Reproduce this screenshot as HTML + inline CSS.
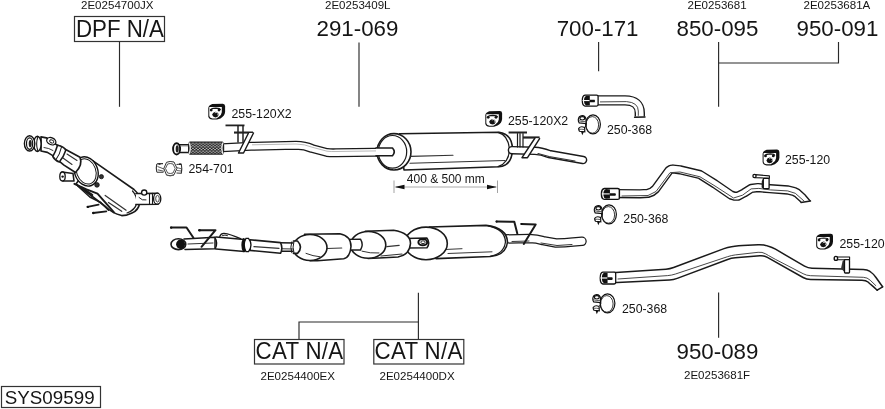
<!DOCTYPE html>
<html><head><meta charset="utf-8">
<style>
html,body{margin:0;padding:0;background:#fff;width:885px;height:409px;overflow:hidden}
svg{display:block;stroke-width:1.6;will-change:transform}
text{font-family:"Liberation Sans",sans-serif;fill:#151515}
.s{font-size:11.55px}
.m{font-size:12.3px}
.b{font-size:22.3px}
.ln{stroke:#2a2a2a;stroke-width:1.15;fill:none}
.bx{stroke:#333;stroke-width:1.2;fill:none}
.k{stroke:#1a1a1a;fill:#fff;stroke-linejoin:round;stroke-linecap:round}
.o{stroke:#1a1a1a;fill:none;stroke-linejoin:round;stroke-linecap:round}
.th{stroke:#333;fill:none;stroke-linecap:round}
.tb{fill:none;stroke-linejoin:round}
</style></head><body>
<svg width="885" height="409" viewBox="0 0 885 409">
<defs>
 <pattern id="mesh" patternUnits="userSpaceOnUse" width="3.4" height="2.7" x="0" y="0.5">
  <circle cx="0.85" cy="0.68" r="0.72" fill="#e8e8e8"/>
  <circle cx="2.55" cy="2.02" r="0.72" fill="#e8e8e8"/>
 </pattern>
 <symbol id="hg" viewBox="0 0 17 17" overflow="visible">
  <path d="M0,4.3 Q0.5,1.5 4,0.4 L14.5,0.2 Q16.8,0.3 16.8,2.5 L16.8,8.2 Q16.5,12.5 12.2,14.8 L8.8,16 L4,16 Q0.2,15.6 0,12.6 Z" fill="#111"/>
  <path d="M1,3.5 L13.5,3.5 L13.5,8.6 Q13.1,12 10,13.7 L8,14.9 L4.2,14.9 Q1.1,14.4 1,12 Z" fill="#fff"/>
  <path d="M2.6,6.2 Q3.2,4.6 7.6,4.5 Q11.8,4.6 12.2,6.2" fill="none" stroke="#111" stroke-width="1.2"/>
  <circle cx="2.9" cy="6.5" r="1.4" fill="#111"/>
  <circle cx="10.7" cy="6.5" r="1.4" fill="#111"/>
  <path d="M3.8,11 Q4.5,8.4 7.3,8.1 Q10.2,8.5 10.4,11.1 Q9.8,13.6 7.1,13.8 Q4.3,13.5 3.8,11 Z" fill="#111"/>
  <path d="M6.6,9.6 A1.7,1.7 0 1 1 9.3,11.6" fill="none" stroke="#fff" stroke-width="0.8"/>
 </symbol>
 <symbol id="sl" viewBox="0 0 16.4 11.6" preserveAspectRatio="none" overflow="visible">
  <path d="M3,0.3 L14.6,0.3 Q16.1,0.3 16.1,1.8 L16.1,9.8 Q16.1,11.3 14.6,11.3 L3,11.3 Q0.3,11 0.3,5.8 Q0.3,0.6 3,0.3 Z" fill="#fff" stroke="#111" stroke-width="1.3"/>
  <path d="M4.3,0.9 Q2,1.8 2,5.8 Q2,9.8 4.3,10.7 L7.8,10.4 L7.8,1.2 Z" fill="#111"/>
  <rect x="0.6" y="5.2" width="7.4" height="1.1" fill="#fff"/>
  <path d="M7.5,5 L12.6,5 Q13.6,6.2 12.6,7.5 L7.5,7.5 Z" fill="#111"/>
 </symbol>
 <symbol id="cl" viewBox="0 0 26 26" overflow="visible">
  <ellipse cx="18" cy="14.3" rx="7.4" ry="9.5" fill="#fff" stroke="#111" stroke-width="1.2"/>
  <ellipse cx="17.3" cy="14.9" rx="6.3" ry="8.3" fill="none" stroke="#222" stroke-width="0.9"/>
  <path d="M3.3,9.6 Q3.6,6 7.2,5.6 Q10.6,5.8 11,9.4 L11,13.6 L4.2,12.9 Q3.2,11.5 3.3,9.6 Z" fill="#fff" stroke="#111" stroke-width="1.2"/>
  <ellipse cx="7.3" cy="8.3" rx="2.4" ry="1.7" fill="none" stroke="#111" stroke-width="1.1"/>
  <path d="M3.5,10.6 Q7,12 10.8,11.4" fill="none" stroke="#333" stroke-width="0.8"/>
  <path d="M3.7,18.3 Q6,15.6 9.6,17.6 L9.8,21.8 L4.5,21.3 Q3.5,20 3.7,18.3 Z" fill="#fff" stroke="#111" stroke-width="1.2"/>
  <path d="M4,19.3 Q6.8,19 9.6,19.6" fill="none" stroke="#333" stroke-width="0.8"/>
  <path d="M6,21.6 L7.3,25.2 L8.9,21.8 Z" fill="#111"/>
  <path d="M11,13 Q12.2,15 10,17" fill="none" stroke="#111" stroke-width="1"/>
 </symbol>
</defs>

<!-- ===== labels ===== -->
<text class="s" x="81" y="9.2">2E0254700JX</text>
<text class="s" x="325" y="9.2">2E0253409L</text>
<text class="s" x="687.5" y="9.2">2E0253681</text>
<text class="s" x="803.5" y="9.2">2E0253681A</text>
<text class="b" x="76" y="36.7" transform="translate(0,36.7) scale(1,1.035) translate(0,-36.7)">DPF N/A</text>
<rect class="bx" x="74.5" y="16.5" width="90" height="25"/>
<text class="b" x="316.5" y="36.2">291-069</text>
<text class="b" x="556.7" y="36.2">700-171</text>
<text class="b" x="676.5" y="36.0">850-095</text>
<text class="b" x="796.5" y="36.0">950-091</text>
<line class="ln" x1="119.5" y1="41.5" x2="119.5" y2="106.8"/>
<line class="ln" x1="359" y1="42.5" x2="359" y2="106.8"/>
<line class="ln" x1="598.6" y1="42" x2="598.6" y2="71.3"/>
<polyline class="ln" points="718.6,42 718.6,106.8"/>
<polyline class="ln" points="718.6,63 838.5,63 838.5,42"/>

<line class="ln" x1="418.4" y1="292.7" x2="418.4" y2="339.5"/>
<polyline class="ln" points="299,339.5 299,322 418.4,322"/>
<rect class="bx" x="254.5" y="339.5" width="89.5" height="24.5"/>
<rect class="bx" x="373.8" y="339.5" width="90" height="24.5"/>
<text class="b" x="255.5" y="359.5" letter-spacing="0.3" transform="translate(0,359.5) scale(1,1.04) translate(0,-359.5)">CAT N/A</text>
<text class="b" x="374.6" y="359.5" letter-spacing="0.3" transform="translate(0,359.5) scale(1,1.04) translate(0,-359.5)">CAT N/A</text>
<text class="s" x="260.5" y="380.0">2E0254400EX</text>
<text class="s" x="379.5" y="380.0">2E0254400DX</text>

<line class="ln" x1="718.6" y1="292.6" x2="718.6" y2="337.8"/>
<text class="b" x="676.5" y="359.4">950-089</text>
<text class="s" x="684" y="379.2">2E0253681F</text>
<rect class="bx" x="1.5" y="386.5" width="99" height="21"/>
<text style="font-size:18.8px" x="4.8" y="403.9" transform="translate(0,403.9) scale(1,1.02) translate(0,-403.9)">SYS09599</text>

<!-- part labels -->
<use href="#hg" x="208.3" y="103.6" width="17" height="17"/>
<text class="m" x="231.5" y="118.1">255-120X2</text>
<use href="#hg" x="485.3" y="110.8" width="17" height="17"/>
<text class="m" x="508" y="125.1">255-120X2</text>
<use href="#hg" x="762.6" y="149.4" width="17" height="17"/>
<text class="m" x="785" y="163.9">255-120</text>
<use href="#hg" x="816.2" y="233.5" width="17" height="17"/>
<text class="m" x="839.5" y="247.7">255-120</text>

<use href="#cl" x="575" y="110" width="26" height="26"/>
<text class="m" x="607" y="134.4">250-368</text>
<use href="#cl" x="591" y="200" width="26" height="26"/>
<text class="m" x="623.3" y="223.3">250-368</text>
<use href="#cl" x="589.5" y="289" width="26" height="26"/>
<text class="m" x="622" y="313.3">250-368</text>

<!-- 254-701 clamp -->
<g fill="none" stroke-linejoin="round">
 <path d="M163.8,168.5 L166.5,162.3 Q170,160.8 174,162 L177,168.3 L174,174.8 Q170,176.5 166.5,175 Z" stroke="#333" stroke-width="1"/>
 <path d="M165.5,168.5 L167.6,164 Q170.2,163 173,164 L175.2,168.4 L173,173 Q170.2,174 167.6,173 Z" stroke="#444" stroke-width="0.9"/>
 <path d="M166.5,175.2 Q170,176.6 174,175.2" stroke="#555" stroke-width="0.8"/>
 <path d="M157,163.8 L163,163.6 M157,172.3 L163.5,172.2 M156.8,164 Q155.8,168 156.8,172.2" stroke="#333" stroke-width="1.1"/>
 <path d="M157.5,166.5 L164.5,169.2 M157.8,169.8 L164,171.3" stroke="#444" stroke-width="0.9"/>
 <path d="M158.5,164 L160.5,164" stroke="#222" stroke-width="1.6"/>
 <path d="M176.5,164.5 L181.3,164 Q182.3,168.5 181.3,173.3 L176.5,173" stroke="#333" stroke-width="1.1"/>
 <path d="M176.5,167.5 L181,168.7 M176.8,170.5 L181,171" stroke="#555" stroke-width="0.9"/>
 <path d="M179,164.2 L181,164.2" stroke="#222" stroke-width="1.6"/>
</g>
<text class="m" x="188.5" y="173.1">254-701</text>

<!-- dimension -->
<text style="font-size:12px" x="406.8" y="183">400 &amp; 500 mm</text>
<g>
 <line x1="394" y1="180.5" x2="394" y2="193" stroke="#999" stroke-width="0.9"/>
 <line x1="497.5" y1="180.5" x2="497.5" y2="193" stroke="#999" stroke-width="0.9"/>
 <line x1="396" y1="187" x2="496" y2="187" stroke="#aaa" stroke-width="1"/>
 <path d="M394.5,187 L404.5,184.8 L404.5,189.2 Z" fill="#111"/>
 <path d="M497,187 L487,184.8 L487,189.2 Z" fill="#111"/>
</g>

<!-- ===== front pipe + muffler 291-069 ===== -->
<g id="frontpipe">
 <!-- pipe centerline tube -->
 <path d="M222,147.8 L251,146.3 L296,145.3 Q305,145.5 312,148.5 L327,152.5 Q331,153 336,152.8 L393,152" class="tb" stroke="#1a1a1a" stroke-width="9"/>
 <path d="M222,147.8 L251,146.3 L296,145.3 Q305,145.5 312,148.5 L327,152.5 Q331,153 336,152.8 L393,152" class="tb" stroke="#fff" stroke-width="6.4"/>
 <path d="M252,144.8 L296,144 Q305,144.2 312,147.2 L327,151.2 Q331,151.7 336,151.5 L390,150.7" style="stroke:#999" fill="none" stroke-width="0.7"/>
 <!-- short pipe & end ring -->
 <path d="M177,144.8 L189,144.8 L189,152.5 L177,152.5" class="k" stroke-width="1.44"/>
 <line x1="181" y1="146.2" x2="188" y2="146.2" stroke="#888" stroke-width="0.6"/>
 <ellipse cx="176.6" cy="148.9" rx="3.5" ry="5.6" fill="#fff" stroke="#111" stroke-width="1.9"/>
 <ellipse cx="177.2" cy="148.9" rx="1.5" ry="3.6" fill="#222"/>
 <!-- flex -->
 <rect x="188" y="141.5" width="36.2" height="13.2" rx="2.2" ry="5" fill="#1e1e1e"/>
 <rect x="190" y="142.5" width="32" height="11.2" fill="url(#mesh)"/>
 <path d="M189,142.5 Q191.5,148 189,154 M223,142.5 Q220.8,148 223,154" fill="none" stroke="#eee" stroke-width="1.3"/>
 <!-- bracket -->
 <path d="M225.5,124.5 L244.5,124.5 L244.5,126.3 L225.5,126.3 Z" fill="#222"/>
 <path d="M238,126 L238,142 M243,126 L243,142" class="o" stroke-width="1.44"/>
 <path d="M234,131.5 L253,131.5 L253,133.6 L234,133.6 Z" fill="#222"/>
 <path d="M248.5,133 L238.5,153 L243.5,153 L253.5,133" class="k" stroke-width="1.44"/>
 <!-- muffler -->
 <path d="M399.5,133.8 L499,132.2 Q512,134 512.5,149 Q512,166 499,166.8 L404,170 Z" class="k"/>
 <path d="M498,132.4 Q508,135 509.5,149 Q509,163 498,166.6" class="o" stroke-width="1.20"/>
 <ellipse cx="394" cy="151.8" rx="17" ry="18.2" class="k"/>
 <ellipse cx="392.5" cy="151.8" rx="14.2" ry="16.3" class="o" stroke-width="1.20"/>
 <path d="M410.7,156.4 L453,155.3 M410,163.2 L505,160.5" class="th" stroke-width="1.12"/>
 <!-- pipe into muffler end -->
 <path d="M376,148 L392.5,148 Q396,151.8 392.5,155.7 L376,155.7" class="k"/>
 <!-- tail pipe -->
 <path d="M512,150.2 L535,150.8 Q541,151 549,154 L583,160" class="tb" stroke="#1a1a1a" stroke-width="8.6" stroke-linecap="round"/>
 <path d="M512,150.2 L535,150.8 Q541,151 549,154 L583,160" class="tb" stroke="#fff" stroke-width="5.8" stroke-linecap="round"/>
 <path d="M538,153.5 L549,156.5 L575,161" class="th" stroke-width="1.12" stroke="#2a2a2a"/>
  <!-- muffler bracket -->
 <path d="M508.6,131.5 L527,131.5 L527,133.5 L508.6,133.5 Z" fill="#222"/>
 <path d="M517.5,133.5 L517.5,147 M520,133.5 L520,147 M523,133.5 L523,147" class="o" stroke-width="1.20"/>
 <path d="M523,136.4 L539.6,136.4 L539.6,138.6 L523,138.6 Z" fill="#222"/>
 <path d="M535,138 L522,157.7 L527.5,157.7 L539.6,138.6" class="k" stroke-width="1.44"/>
</g>

<!-- ===== cat assembly ===== -->
<g id="cats">
 <!-- tail pipe -->
 <path d="M500,239 L529,238.6 Q537,238.8 543,240.6 L556,243 Q565,243 573,242 L582,241.3" class="tb" stroke="#1a1a1a" stroke-width="9.5" stroke-linecap="round"/>
 <path d="M500,239 L529,238.6 Q537,238.8 543,240.6 L556,243 Q565,243 573,242 L582,241.3" class="tb" stroke="#fff" stroke-width="7" stroke-linecap="round"/>
 <path d="M512,241.5 L529,241 M541,243 L557,245.5 L572,244.5" class="th" stroke-width="0.98"/>
 <!-- rear muffler -->
 <path d="M429.4,227 L486,225.4 Q507,228 507.5,242 Q506,255 490.4,256.5 L436,258.6 Z" class="k"/>
 <path d="M488,225.8 Q505,229 505.5,242 Q504,254 490,256.3" class="o" stroke-width="1.32"/>
 <path d="M445,249.5 L462,248.7 M448,253.5 L492,251.8" class="th" stroke-width="0.98"/>
 <ellipse cx="426" cy="243.4" rx="21.3" ry="16.3" class="k"/>
 <!-- pipe between cat2 and muffler, with sensor -->
 <path d="M405,238.4 L427,238.1 Q430.5,242.9 427,247.7 L405,248" class="k" stroke-width="1.5"/>
 <ellipse cx="422.8" cy="242.2" rx="4.4" ry="3.1" fill="#fff" stroke="#111" stroke-width="2"/>
 <ellipse cx="423" cy="242.2" rx="2.2" ry="1.4" fill="none" stroke="#111" stroke-width="0.9"/>
 <!-- cat 2 -->
 <path d="M365.3,231.3 L393.6,230.2 Q410.5,233 410.5,243.5 Q409.5,255 398,257 L378.9,258 L368,258.4 Z" class="k"/>
  <path d="M386.8,246.6 L399.2,245.4 M381,256 L402,254" class="th" stroke-width="1.12"/>
 <ellipse cx="368.2" cy="244.9" rx="17.6" ry="13.4" class="k"/>
 <path d="M362,251.2 Q370,253.5 379,253" class="th" stroke-width="1"/>
 <!-- pipe between cats -->
 <path d="M347,239.4 L360.5,239.2 Q363.8,244.6 360.5,250 L347,250" class="k" stroke-width="1.44"/>
 <!-- cat 1 -->
 <path d="M304.6,234.3 L339.8,233.8 Q351,236 351,246.5 Q350,257.5 343.7,258.7 L317.3,260.7 L310,260.7 Z" class="k"/>
  <path d="M327,248.5 L341.7,248" class="th" stroke-width="1.2"/>
 <ellipse cx="310" cy="247.5" rx="17" ry="13" class="k"/>
 <path d="M306,253.4 Q313,256.2 320,256.8" class="th" stroke-width="1"/>
 <!-- pipe 3 + flange into cat1 -->
 <path d="M279,242.7 L295,243 L295,251.2 L279,251.3" class="k" stroke-width="1.5"/>
 <path d="M281,248.8 L293,249" class="th" stroke-width="1.12" stroke="#2a2a2a"/>
 <path d="M293.5,241 L297.5,241 Q303.5,247.2 297.5,253.4 L293.5,253.4" class="k" stroke-width="1.6"/>
 <path d="M291.8,241.8 Q289.8,247.2 291.8,252.8 M294,241.2 Q292,247.2 294,253.2" class="o" stroke-width="1"/>
 <!-- pipe 2 -->
 <path d="M250,239.8 L280.5,242.6 Q283.2,247.9 280.5,253.3 L250,250.4 Z" class="k" stroke-width="1.6"/>
 <path d="M254,246.6 L279,248.3" class="th" stroke-width="1.30" stroke="#2a2a2a"/>
 <!-- sleeve -->
 <path d="M216,237 L244.4,239.5 L244.4,251.4 L216,249" class="k" stroke-width="1.5"/>
 <path d="M219.7,236.4 Q221,233.3 224,233.4 Q230,234 240.5,238.7" class="o" stroke-width="1.32"/>
 <path d="M222.5,235.5 Q225,234.5 227.5,235.6" class="o" stroke-width="0.96"/>
 <path d="M248.5,238.3 Q253.5,245 248.5,251.7 L246,251.7 Q242.5,245 246,238.3 Z" fill="#fff" stroke="#111" stroke-width="1.3"/>
 <path d="M244.3,238.5 Q241,245 244.3,251.8" fill="none" stroke="#111" stroke-width="2.6"/>
 <path d="M214.5,236.8 Q218.5,243 215,249.2" fill="none" stroke="#111" stroke-width="1.4"/>
 <!-- pipe 1 -->
 <path d="M184,238.9 L215,237.3 L215,248.8 L185,249.4" class="k" stroke-width="1.5"/>
 <path d="M188,244 L213,243" class="th" stroke-width="1"/>
 <ellipse cx="178.4" cy="244.2" rx="7.4" ry="5.4" class="k" stroke-width="1.6"/>
 <ellipse cx="180.6" cy="244.2" rx="4.5" ry="4.7" fill="#111"/>
 <!-- wires -->
 <path d="M170.9,227.5 L186.5,227.5 L193.4,237.7" class="o" stroke-width="2"/>
 <circle cx="171.2" cy="227.6" r="1.2" fill="#111"/>
 <path d="M199.3,230.2 L215.5,230.2 L201.5,246.8" class="o" stroke-width="2"/>
 <circle cx="199.5" cy="230.3" r="1.3" fill="#111"/>
 <path d="M496.5,221.5 L514.3,221.8 L517.3,233.4" class="o" stroke-width="2"/>
 <circle cx="496.7" cy="221.6" r="1.1" fill="#111"/>
 <path d="M521.4,223.9 L535.7,224.5 L523.8,244" class="o" stroke-width="2"/>
 <circle cx="521.5" cy="224" r="1.1" fill="#111"/>
</g>

<!-- ===== 700-171 elbow ===== -->
<g id="elbow">
 <path d="M597,100.4 L625,100.4 Q639.8,100.6 639.8,113 L639.8,116.6" class="tb" stroke="#1a1a1a" stroke-width="10.4"/>
 <path d="M597,100.4 L625,100.4 Q639.8,100.6 639.8,113 L639.8,116.8" class="tb" stroke="#fff" stroke-width="7.6"/>
 <path d="M600,101.9 L626.5,101.6 Q638.3,102.5 638.3,111 L638.3,115.8" fill="none" style="stroke:#333" stroke-width="0.9"/>
 <path d="M634.6,117.2 L645,117" class="o" stroke-width="1.5"/>
 <use href="#sl" x="582" y="94.8" width="16.4" height="11.6"/>
</g>

<!-- ===== 850-095 ===== -->
<g id="p850">
 <path d="M616.0,193.6 L640.0,193.8 L648.0,193.3 L652.0,191.8 L655.5,189.0 L669.0,170.5 L671.0,169.3 L673.0,169.0 L680.0,169.8 L700.0,174.6 L715.0,184.0 L731.0,195.0 L734.5,196.2 L738.0,196.2 L744.0,193.0 L751.2,188.4 L758.0,187.6 L770.0,188.7 L788.0,190.0 L794.0,191.5 L797.0,193.0 L802.5,198.0 L808.0,204.5" class="tb" stroke="#1a1a1a" stroke-width="9.3"/>
 <path d="M616.0,193.6 L640.0,193.8 L648.0,193.3 L652.0,191.8 L655.5,189.0 L669.0,170.5 L671.0,169.3 L673.0,169.0 L680.0,169.8 L700.0,174.6 L715.0,184.0 L731.0,195.0 L734.5,196.2 L738.0,196.2 L744.0,193.0 L751.2,188.4 L758.0,187.6 L770.0,188.7 L788.0,190.0 L794.0,191.5 L797.0,193.0 L802.5,198.0 L808.0,204.5" class="tb" stroke="#fff" stroke-width="6.5"/>
 <path d="M622,196 L648,195.5 L656,191.5 L670,172.7 L680,172 L700,176.8 L715,186 L733.5,198 L742.5,195.2 L751.1,188.9 L758.8,188.4 L770.3,189.9 L787.6,190.9 L795.3,193.3 L804,201" class="th" stroke-width="0.9"/>
 <path d="M797,202.9 L814,200.3 L814,209 L797,209 Z" fill="#fff"/>
 <path d="M801,202.5 L810.5,201" class="o" stroke-width="1.5"/>
 <use href="#sl" x="601.1" y="188.2" width="18.6" height="11.5"/>
 <!-- bracket -->
 <path d="M755,174.6 L769.4,175.9 L769.4,178.3 L755,177.6 Z" fill="#fff" stroke="#111" stroke-width="1.1" stroke-linejoin="round"/>
 <circle cx="754.5" cy="176" r="1.6" fill="#fff" stroke="#111" stroke-width="1.3"/>
 <path d="M761.6,187.5 L761.8,181 L763.4,178.4 L763.4,188.5 Z" fill="#222"/>
 <rect x="763.3" y="178.4" width="5.8" height="10.3" rx="0.8" fill="#fff" stroke="#111" stroke-width="1.3"/>
</g>

<!-- ===== 950-089 long pipe ===== -->
<g id="p950">
 <path d="M612.0,272.7 L669.9,268.9 L727.7,247.2 L738.6,245.8 L762.1,244.5 L772.0,247.2 L808.0,268.2 L867.3,269.7 L873.5,274.0 L882.6,286.8 L877.2,290.2 L871.6,285.2 L866.0,280.3 L806.6,279.5 L763.9,255.4 L731.3,258.1 L673.5,279.8 L612.0,282.7 Z" fill="#fff" stroke="none"/>
 <path d="M612.0,272.7 L665.9,269.2 Q669.9,268.9 673.6,267.5 L724.0,248.6 Q727.7,247.2 731.5,246.7 L734.8,246.3 Q738.6,245.8 742.6,245.6 L758.1,244.7 Q762.1,244.5 765.6,245.4 L768.5,246.3 Q772.0,247.2 775.5,249.2 L804.5,266.2 Q808.0,268.2 812.0,268.3 L863.3,269.6 Q867.3,269.7 869.5,271.2 L871.3,272.5 Q873.5,274.0 875.8,277.3 L882.6,286.8" class="o" stroke-width="1.5"/>
 <path d="M612.0,282.7 L669.5,280.0 Q673.5,279.8 677.2,278.4 L727.6,259.5 Q731.3,258.1 735.3,257.8 L759.9,255.7 Q763.9,255.4 767.4,257.4 L803.1,277.5 Q806.6,279.5 810.6,279.6 L862.0,280.2 Q866.0,280.3 868.0,282.0 L869.6,283.5 Q871.6,285.2 873.6,286.9 L877.2,290.2" class="o" stroke-width="1.5"/>
 <path d="M618.0,279.0 L667.7,275.6 Q671.7,275.3 675.5,274.0 L727.5,256.7 Q731.3,255.4 735.3,254.9 L758.1,252.3 Q762.1,251.8 765.6,253.8 L768.5,255.5 Q772.0,257.5 775.5,259.4 L803.1,273.7 Q806.6,275.6 810.6,275.7 L863.3,277.3 Q867.3,277.4 870.2,280.2 L875.8,285.6" class="th" stroke-width="0.9"/>
 <path d="M877.2,290.2 L882.6,286.8" class="o" stroke-width="1.5"/>
 <use href="#sl" x="599.9" y="271.8" width="16.1" height="12.5"/>
 <!-- bracket -->
 <path d="M837.2,257 L849.6,257 L849.6,259.7 L837.2,259.7 Z" fill="#fff" stroke="#111" stroke-width="1.1" stroke-linejoin="round"/>
 <ellipse cx="835.9" cy="258.4" rx="1.7" ry="2" fill="#fff" stroke="#111" stroke-width="1.4"/>
 <path d="M841,268.5 L842.6,261 L844.5,259.8 L844.5,272 Z" fill="#333"/>
 <rect x="844.5" y="259.7" width="5" height="13.3" rx="0.8" fill="#fff" stroke="#111" stroke-width="1.3"/>
</g>

<!-- ===== DPF ===== -->
<g id="dpf">
 <!-- main can -->
 <path d="M93,160.8 L134,189.5 Q140,194.5 139.8,202.5 Q138.5,210.5 132,213 Q127,215.6 121.7,215.6 Q112,213 106,207 L76,184 Z" class="k" stroke-width="1.6"/>
 <path d="M132.5,191 Q137.2,196 136.8,203 Q135.2,210 127,213" class="o" stroke-width="1.2"/>
 <path d="M105.2,195.4 L126.1,210.2 M108.5,202.5 L121.7,211.3" class="th" stroke-width="1.26"/>
 <!-- straps under -->
 <path d="M74.4,183.8 L86.5,189.3 L97.5,193.7 L106.3,203.6 L114,212.4" class="o" stroke-width="1.92"/>
 <path d="M77.7,186 L89.8,197 L100.8,202.5 L108.5,210.2" class="o" stroke-width="1.44"/>
 <path d="M82,188 L92,195" class="o" stroke-width="2.64"/>
 <path d="M87.6,206.9 L98.6,204.7 M93.1,213 L106.3,211.3" class="o" stroke-width="1.80"/>
 <circle cx="87.8" cy="206.9" r="1.2" fill="#111"/>
 <circle cx="93.3" cy="213" r="1.2" fill="#111"/>
 <!-- bolts -->
 <circle cx="101.4" cy="176.7" r="2.1" fill="#333" stroke="#111" stroke-width="0.8"/>
 <circle cx="97" cy="184.9" r="2.3" fill="#333" stroke="#111" stroke-width="0.8"/>
 <!-- end cap ring -->
 <ellipse cx="86.2" cy="171.4" rx="11.6" ry="15" fill="#fff" stroke="#111" stroke-width="1.4" transform="rotate(-20 86.2 171.4)"/>
 <ellipse cx="86.2" cy="171.4" rx="9.6" ry="13" fill="none" stroke="#111" stroke-width="1" transform="rotate(-20 86.2 171.4)"/>
 <!-- outlet pipe -->
 <path d="M136,193.5 L158,193.2 L158,204.2 L136,204.5" class="k" stroke-width="1.56"/>
 <ellipse cx="157.2" cy="198.7" rx="3.6" ry="5.5" fill="#fff" stroke="#111" stroke-width="1.3"/>
 <ellipse cx="157.5" cy="198.7" rx="1.8" ry="3.3" fill="none" stroke="#111" stroke-width="0.8"/>
 <path d="M149.5,193.5 L149.5,204.2 M152.5,193.3 L152.5,204" class="o" stroke-width="1.08"/>
 <circle cx="144.2" cy="192.6" r="2.6" fill="#fff" stroke="#111" stroke-width="1.3"/>
 <path d="M139,197.5 Q142,201 146,200" class="o" stroke-width="0.96"/>
 <!-- inlet cone -->
 <path d="M41,136.8 L46.4,137.8 L57.1,145.1 L62,147.6 L80,157.3 Q83,165 75.5,172.5 L64,165.1 L59.1,161.2 L53.2,155.9 L47.4,152.4 L41,151 Z" class="k" stroke-width="1.68"/>
 <path d="M63,158 L72,164.5 M67,154 L77,160.5" class="th" stroke-width="1.12"/>
 <path d="M44,147.5 Q49,148 53,150.5" class="th" stroke-width="0.98"/>
 <!-- sensor side tube -->
 <path d="M62,172 L73,173.5 L74,181 L63,181" class="k" stroke-width="1.56"/>
 <ellipse cx="62.5" cy="176.5" rx="2.7" ry="4.5" fill="#fff" stroke="#111" stroke-width="1.3"/>
 <circle cx="62.6" cy="176.6" r="1.2" fill="#111"/>
 <!-- band -->
 <path d="M57.5,145.3 Q64,146.5 65.8,150.3 Q63.5,157.5 59.3,162 Q55,160.5 52.8,156.5 Q56,151 57.5,145.3 Z" class="k" stroke-width="1.56"/>
 <path d="M61.5,147 Q60,154 56,159.5" class="o" stroke-width="1.08"/>
 <ellipse cx="51.3" cy="141.2" rx="4.8" ry="3.4" fill="#fff" stroke="#111" stroke-width="1.3" transform="rotate(25 51.3 141.2)"/>
 <ellipse cx="51.8" cy="141.2" rx="2.2" ry="1.5" fill="none" stroke="#111" stroke-width="0.9" transform="rotate(25 51.3 141.2)"/>
 <!-- flange & inlet ring -->
 <ellipse cx="37.4" cy="143.9" rx="3.7" ry="7.6" fill="#fff" stroke="#111" stroke-width="1.4"/>
 <path d="M37.8,137 Q35.5,144 37.8,150.8" class="o" stroke-width="1.08"/>
 <ellipse cx="29.6" cy="143.4" rx="5.2" ry="7.6" fill="#fff" stroke="#111" stroke-width="1.4"/>
 <ellipse cx="29.6" cy="143.6" rx="3.1" ry="5.7" fill="none" stroke="#111" stroke-width="1.2"/>
 <ellipse cx="30.2" cy="143.6" rx="1.5" ry="3.7" fill="#222"/>
</g>
</svg>
</body></html>
